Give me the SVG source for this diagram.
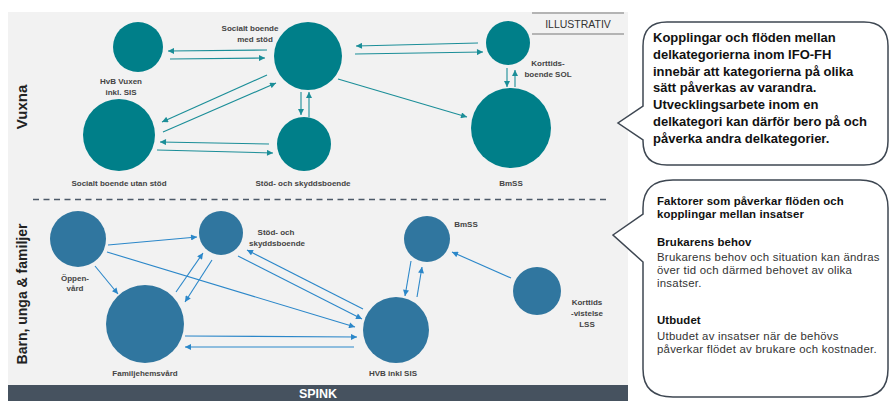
<svg xmlns="http://www.w3.org/2000/svg" width="891" height="401" viewBox="0 0 891 401">
<defs>
<style>
.bg{fill:#f2f2f2}
.tn{fill:#007f89}
.bn{fill:#30769f}
.ta{stroke:#1b8e98;stroke-width:1.1;fill:none;marker-end:url(#mt)}
.ba{stroke:#2b87c9;stroke-width:1.1;fill:none;marker-end:url(#mb)}
.lbl{font-family:"Liberation Sans",Arial,sans-serif;font-size:8px;font-weight:bold;fill:#444}
.side{font-family:"Liberation Sans",Arial,sans-serif;font-weight:bold;fill:#222}
.co{fill:#fff;stroke:#3e4752;stroke-width:1.5}
.ct{font-family:"Liberation Sans",Arial,sans-serif;font-size:13px;font-weight:bold;fill:#111}
.ft{font-family:"Liberation Sans",Arial,sans-serif;font-size:11.4px;letter-spacing:0.25px;fill:#333}
.fb{font-weight:bold;fill:#111;letter-spacing:0.1px}
</style>
<marker id="mt" viewBox="0 0 10 10" refX="10" refY="5" markerWidth="7" markerHeight="6" orient="auto" markerUnits="userSpaceOnUse"><path d="M0,0 L10,5 L0,10 z" fill="#1b8e98"/></marker>
<marker id="mb" viewBox="0 0 10 10" refX="10" refY="5" markerWidth="7" markerHeight="6" orient="auto" markerUnits="userSpaceOnUse"><path d="M0,0 L10,5 L0,10 z" fill="#2b87c9"/></marker>
</defs>
<rect x="0" y="0" width="891" height="401" fill="#fff"/>
<rect class="bg" x="8" y="12" width="620" height="374"/>
<rect x="8" y="385" width="620" height="16" fill="#46525f"/>
<text x="318" y="398" text-anchor="middle" font-family="Liberation Sans, Arial, sans-serif" font-size="12.5" font-weight="bold" fill="#fff">SPINK</text>
<g id="illustrativ">
<line x1="532" y1="13" x2="624" y2="13" stroke="#777" stroke-width="1.2"/>
<line x1="532" y1="34" x2="624" y2="34" stroke="#777" stroke-width="1.2"/>
<text x="578" y="28" text-anchor="middle" font-family="Liberation Sans, Arial, sans-serif" font-size="10.5" fill="#333">ILLUSTRATIV</text>
</g>
<line x1="33" y1="199.5" x2="606" y2="199.5" stroke="#4d5a68" stroke-width="1.5" stroke-dasharray="6,4.5"/>
<text class="side" font-size="15" transform="translate(27,107) rotate(-90)" text-anchor="middle">Vuxna</text>
<text class="side" font-size="14" transform="translate(27,294) rotate(-90)" text-anchor="middle">Barn, unga &amp; familjer</text>

<g id="connectors">
<line class="ta" x1="267" y1="50" x2="168" y2="51"/>
<line class="ta" x1="170" y1="59" x2="265" y2="58"/>
<line class="ta" x1="267" y1="75" x2="162" y2="122"/>
<line class="ta" x1="163" y1="132" x2="276" y2="83"/>
<line class="ta" x1="269" y1="144" x2="160" y2="142"/>
<line class="ta" x1="157" y1="150" x2="273" y2="153"/>
<line class="ta" x1="301" y1="92" x2="301" y2="115"/>
<line class="ta" x1="309" y1="117" x2="309" y2="92"/>
<line class="ta" x1="478" y1="43" x2="356" y2="46"/>
<line class="ta" x1="355" y1="54" x2="483" y2="52"/>
<line class="ta" x1="338" y1="79" x2="467" y2="117"/>
<line class="ta" x1="507" y1="68" x2="507" y2="87"/>
<line class="ta" x1="515" y1="87" x2="515" y2="70"/>

<line class="ba" x1="108" y1="245" x2="197" y2="237"/>
<line class="ba" x1="95" y1="266" x2="118" y2="294"/>
<line class="ba" x1="107" y1="252" x2="355" y2="327"/>
<line class="ba" x1="176" y1="292" x2="203" y2="253"/>
<line class="ba" x1="212" y1="260" x2="185" y2="302"/>
<line class="ba" x1="238" y1="256" x2="362" y2="319"/>
<line class="ba" x1="363" y1="309" x2="247" y2="250"/>
<line class="ba" x1="185" y1="336" x2="357" y2="337"/>
<line class="ba" x1="354" y1="347" x2="185" y2="347"/>
<line class="ba" x1="417" y1="297" x2="422" y2="267"/>
<line class="ba" x1="411" y1="261" x2="405" y2="296"/>
<line class="ba" x1="511" y1="278" x2="452" y2="252"/>
</g>

<g id="hvb-vuxen"><circle class="tn" cx="138" cy="47" r="25"/>
<text class="lbl" x="121" y="84" text-anchor="middle">HvB Vuxen</text>
<text class="lbl" x="121" y="95" text-anchor="middle">inkl. SIS</text></g>
<g id="socialt-med-stod"><circle class="tn" cx="308" cy="56" r="34"/>
<text class="lbl" x="250" y="31" text-anchor="middle">Socialt boende</text>
<text class="lbl" x="255" y="42" text-anchor="middle">med stöd</text></g>
<g id="socialt-utan-stod"><circle class="tn" cx="119" cy="135" r="36"/>
<text class="lbl" x="119" y="186" text-anchor="middle">Socialt boende utan stöd</text></g>
<g id="stod-skydd-vuxna"><circle class="tn" cx="304" cy="144" r="27"/>
<text class="lbl" x="303" y="186" text-anchor="middle">Stöd- och skyddsboende</text></g>
<g id="korttids-sol"><circle class="tn" cx="508" cy="43" r="22"/>
<text class="lbl" x="548" y="66" text-anchor="middle">Korttids-</text>
<text class="lbl" x="548" y="77" text-anchor="middle">boende SOL</text></g>
<g id="bmss-vuxna"><circle class="tn" cx="511" cy="128" r="40"/>
<text class="lbl" x="511" y="186" text-anchor="middle">BmSS</text></g>

<g id="oppenvard"><circle class="bn" cx="78" cy="239" r="28"/>
<text class="lbl" x="75" y="281" text-anchor="middle">Öppen-</text>
<text class="lbl" x="75" y="291" text-anchor="middle">vård</text></g>
<g id="stod-skydd-barn"><circle class="bn" cx="221" cy="233" r="22"/>
<text class="lbl" x="276" y="235" text-anchor="middle">Stöd- och</text>
<text class="lbl" x="277" y="246" text-anchor="middle">skyddsboende</text></g>
<g id="familjehemsvard"><circle class="bn" cx="145" cy="324" r="39"/>
<text class="lbl" x="145" y="376" text-anchor="middle">Familjehemsvård</text></g>
<g id="hvb-inkl-sis"><circle class="bn" cx="396" cy="330" r="33"/>
<text class="lbl" x="393" y="376" text-anchor="middle">HVB inkl SIS</text></g>
<g id="bmss-barn"><circle class="bn" cx="427" cy="239" r="23"/>
<text class="lbl" x="466" y="227" text-anchor="middle">BmSS</text></g>
<g id="korttidsvistelse-lss"><circle class="bn" cx="537" cy="291" r="24"/>
<text class="lbl" x="587" y="305" text-anchor="middle">Korttids</text>
<text class="lbl" x="587" y="316" text-anchor="middle">-vistelse</text>
<text class="lbl" x="587" y="327" text-anchor="middle">LSS</text></g>

<g id="callout-1">
<path class="co" d="M667,22 H864 Q888,22 888,46 V141 Q888,165 864,165 H667 Q643,165 643,141 V140 L618,123 L643,106 V46 Q643,22 667,22 Z"/>
<text class="ct" x="653" y="42">Kopplingar och flöden mellan</text>
<text class="ct" x="653" y="59">delkategorierna inom IFO-FH</text>
<text class="ct" x="653" y="76">innebär att kategorierna på olika</text>
<text class="ct" x="653" y="92">sätt påverkas av varandra.</text>
<text class="ct" x="653" y="109">Utvecklingsarbete inom en</text>
<text class="ct" x="653" y="126">delkategori kan därför bero på och</text>
<text class="ct" x="653" y="143">påverka andra delkategorier.</text>
</g>
<g id="callout-2">
<path class="co" d="M673,180 H860 Q888,180 888,208 V369 Q888,397 860,397 H673 Q643,397 643,369 V262 L613,235 L643,214 V208 Q643,180 673,180 Z"/>
<text class="ft fb" x="657" y="205">Faktorer som påverkar flöden och</text>
<text class="ft fb" x="657" y="218">kopplingar mellan insatser</text>
<text class="ft fb" x="657" y="246">Brukarens behov</text>
<text class="ft" x="657" y="261">Brukarens behov och situation kan ändras</text>
<text class="ft" x="657" y="274">över tid och därmed behovet av olika</text>
<text class="ft" x="657" y="287">insatser.</text>
<text class="ft fb" x="657" y="324">Utbudet</text>
<text class="ft" x="657" y="340">Utbudet av insatser när de behövs</text>
<text class="ft" x="657" y="353">påverkar flödet av brukare och kostnader.</text>
</g>
</svg>
